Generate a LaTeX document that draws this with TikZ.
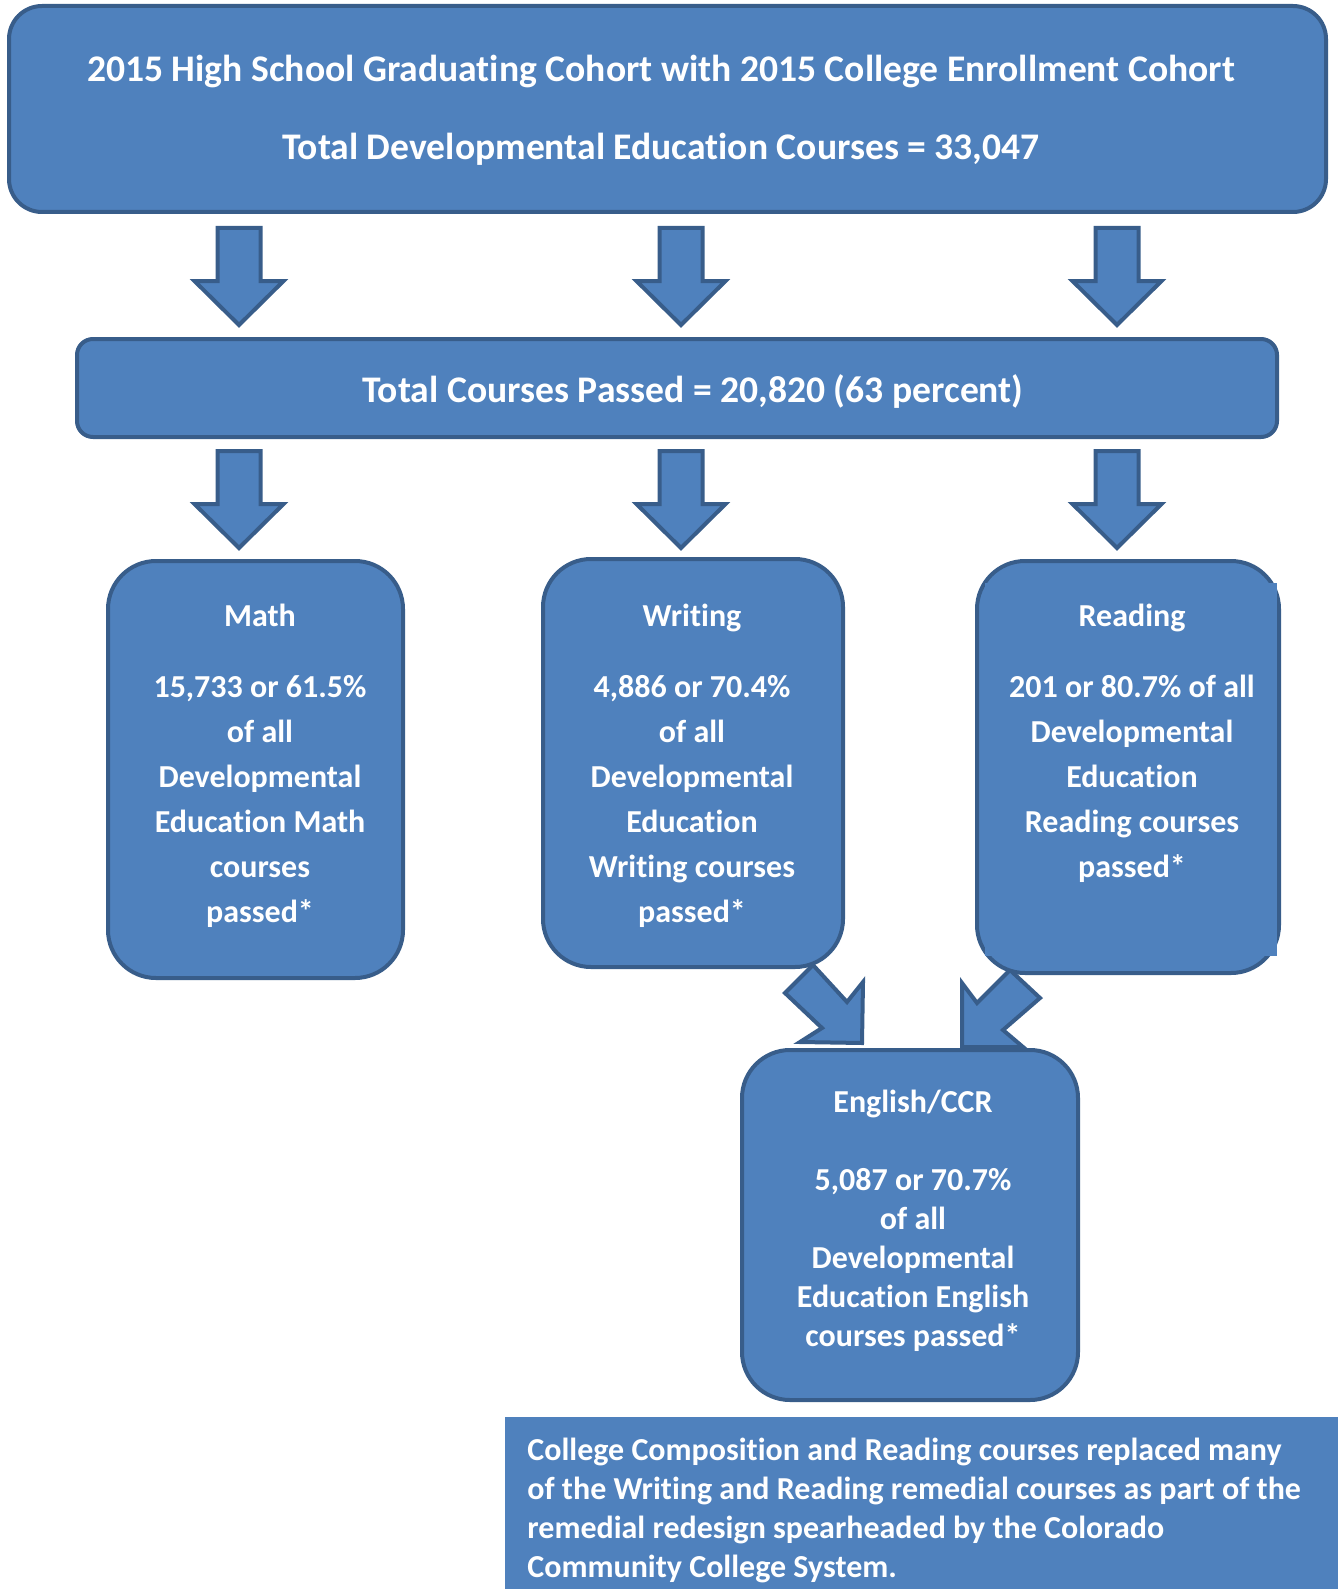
\documentclass[tikz,border=0pt]{standalone}
\usepackage{fontspec}
\setmainfont{Carlito}[Ligatures=NoCommon]
\usetikzlibrary{positioning,fit}
\definecolor{boxblue}{HTML}{4F81BD}
\definecolor{boxedge}{HTML}{385D8A}

\begin{document}
\begin{tikzpicture}[x=0.5pt,y=-0.5pt,
  blk/.style={draw=boxedge,fill=boxblue,line width=2pt,inner sep=0pt,rounded corners=24pt},
  arr/.style={draw=boxedge,fill=boxblue,line width=2pt,line join=miter},
  txt/.style={text=white,font=\bfseries,align=center,inner sep=0pt}]
  \useasboundingbox (0,0) rectangle (1338,1589);

  % arrows down
  \foreach \cx in {239,681,1117}
    \foreach \yt in {228,451}
      \draw[arr] (\cx-21.5,\yt) -- (\cx+21.5,\yt) -- (\cx+21.5,\yt+53) -- (\cx+44.5,\yt+53)
        -- (\cx,\yt+97) -- (\cx-44.5,\yt+53) -- (\cx-21.5,\yt+53) -- cycle;
  % arrows into English/CCR
  \draw[arr] (813,965) -- (847,1002) -- (863,982) -- (862,1043) -- (800,1042) -- (822,1028) -- (785,993) -- cycle;
  \draw[arr] (1010,970) -- (977,1003) -- (962,983) -- (962,1047) -- (1023,1047) -- (1003,1030) -- (1040,998) -- cycle;

  \node[blk,rounded corners=16.5pt,fit={(9,6) (1326,212)}] (cohort) {};
  \node[blk,rounded corners=8pt,fit={(77,339) (1277,437)}] (passed) {};
  \node[blk,fit={(108,561) (403,978)}] (math) {};
  \node[blk,fit={(543,559) (843,967)}] (writing) {};
  \node[blk,fit={(977,561) (1279,973)}] (reading) {};
  \fill[boxblue] (985,583) rectangle (1277,956);
  \node[blk,fit={(742,1050) (1078,1400)}] (english) {};
  \fill[boxblue] (505,1417) rectangle (1338,1589);

  \node[txt,anchor=north,font=\fontsize{18.8}{39}\bfseries] (cohorttxt) at (661,55)
    {2015 High School Graduating Cohort with 2015 College Enrollment Cohort\\
     Total Developmental Education Courses = 33,047};
  \node[txt,font=\fontsize{18.8}{22}\bfseries] (passedtxt) at (693,392)
    {Total Courses Passed = 20,820 (63 percent)};
  \node[txt,anchor=north,font=\fontsize{16}{22.5}\bfseries] (mathtxt) at (260,604)
    {Math\\[13pt] 15,733 or 61.5\%\\ of all\\ Developmental\\ Education Math\\ courses\\ passed*};
  \node[txt,anchor=north,font=\fontsize{16}{22.5}\bfseries] (writingtxt) at (692,604)
    {Writing\\[13pt] 4,886 or 70.4\%\\ of all\\ Developmental\\ Education\\ Writing courses\\ passed*};
  \node[txt,anchor=north,font=\fontsize{16}{22.5}\bfseries] (readingtxt) at (1132,604)
    {Reading\\[13pt] 201 or 80.7\% of all\\ Developmental\\ Education\\ Reading courses\\ passed*};
  \node[txt,anchor=north,font=\fontsize{16}{19.5}\bfseries] (englishtxt) at (913,1090)
    {English/CCR\\[19.5pt] 5,087 or 70.7\%\\ of all\\ Developmental\\ Education English\\ courses passed*};
  \node[txt,anchor=north west,align=left,font=\fontsize{16}{19.5}\bfseries] (notetxt) at (527,1438)
    {College Composition and Reading courses replaced many\\
     of the Writing and Reading remedial courses as part of the\\
     remedial redesign spearheaded by the Colorado\\
     Community College System.};
\end{tikzpicture}
\end{document}
